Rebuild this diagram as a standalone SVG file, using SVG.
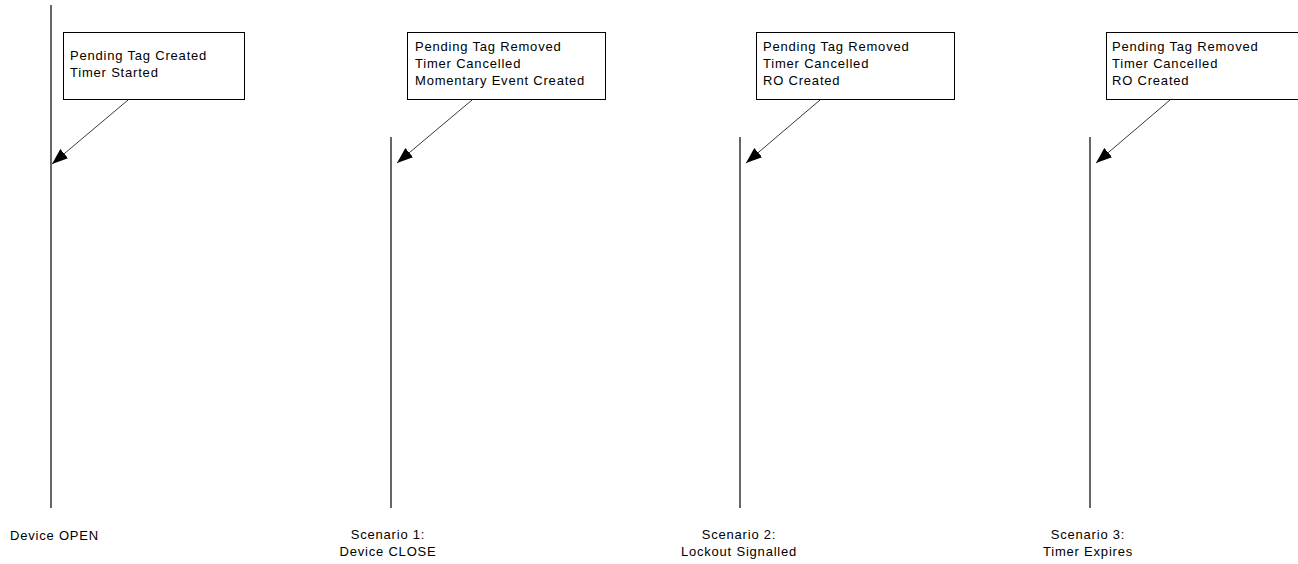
<svg xmlns="http://www.w3.org/2000/svg" width="1298" height="564" viewBox="0 0 1298 564">
<style>
text{font-family:"Liberation Sans",Arial,sans-serif;font-size:13px;letter-spacing:0.8px;fill:#000}
.tl{stroke:#000;stroke-width:1.2;fill:none}
.box{fill:#fff;stroke:#000;stroke-width:1}
.arr{stroke:#222;stroke-width:0.9;fill:none;marker-end:url(#ah)}
.c{text-anchor:middle}
</style>
<defs>
<marker id="ah" viewBox="0 0 16 12" refX="16" refY="6" markerWidth="16" markerHeight="12" markerUnits="userSpaceOnUse" orient="auto">
<path d="M0,0 L16,6 L0,12 Z" fill="#000"/>
</marker>
</defs>
<rect width="1298" height="564" fill="#fff"/>
<g id="timeline-open">
<line class="tl" x1="51" y1="5" x2="51" y2="508"/>
<text x="10" y="540">Device OPEN</text>
</g>
<g id="timeline-s1">
<line class="tl" x1="391" y1="137" x2="391" y2="508"/>
<text class="c" x="388" y="539">Scenario 1:</text>
<text class="c" x="388" y="556">Device CLOSE</text>
</g>
<g id="timeline-s2">
<line class="tl" x1="740" y1="137" x2="740" y2="508"/>
<text class="c" x="739" y="539">Scenario 2:</text>
<text class="c" x="739" y="556">Lockout Signalled</text>
</g>
<g id="timeline-s3">
<line class="tl" x1="1090" y1="137" x2="1090" y2="508"/>
<text class="c" x="1088" y="539">Scenario 3:</text>
<text class="c" x="1088" y="556">Timer Expires</text>
</g>
<g id="note-open">
<rect class="box" x="63.5" y="32.5" width="181" height="67"/>
<text x="70" y="60">Pending Tag Created</text>
<text x="70" y="77">Timer Started</text>
</g>
<g id="note-s1">
<rect class="box" x="407.5" y="32.5" width="198" height="67"/>
<text x="415" y="51">Pending Tag Removed</text>
<text x="415" y="68">Timer Cancelled</text>
<text x="415" y="85">Momentary Event Created</text>
</g>
<g id="note-s2">
<rect class="box" x="756.5" y="32.5" width="198" height="67"/>
<text x="763" y="51">Pending Tag Removed</text>
<text x="763" y="68">Timer Cancelled</text>
<text x="763" y="85">RO Created</text>
</g>
<g id="note-s3">
<rect class="box" x="1106.5" y="32.5" width="198" height="67"/>
<text x="1112" y="51">Pending Tag Removed</text>
<text x="1112" y="68">Timer Cancelled</text>
<text x="1112" y="85">RO Created</text>
</g>
<g id="connectors">
<line class="arr" x1="128" y1="100" x2="52" y2="164"/>
<line class="arr" x1="472" y1="100" x2="397" y2="163"/>
<line class="arr" x1="820" y1="100" x2="746" y2="163"/>
<line class="arr" x1="1170" y1="100" x2="1096" y2="163"/>
</g>
</svg>
